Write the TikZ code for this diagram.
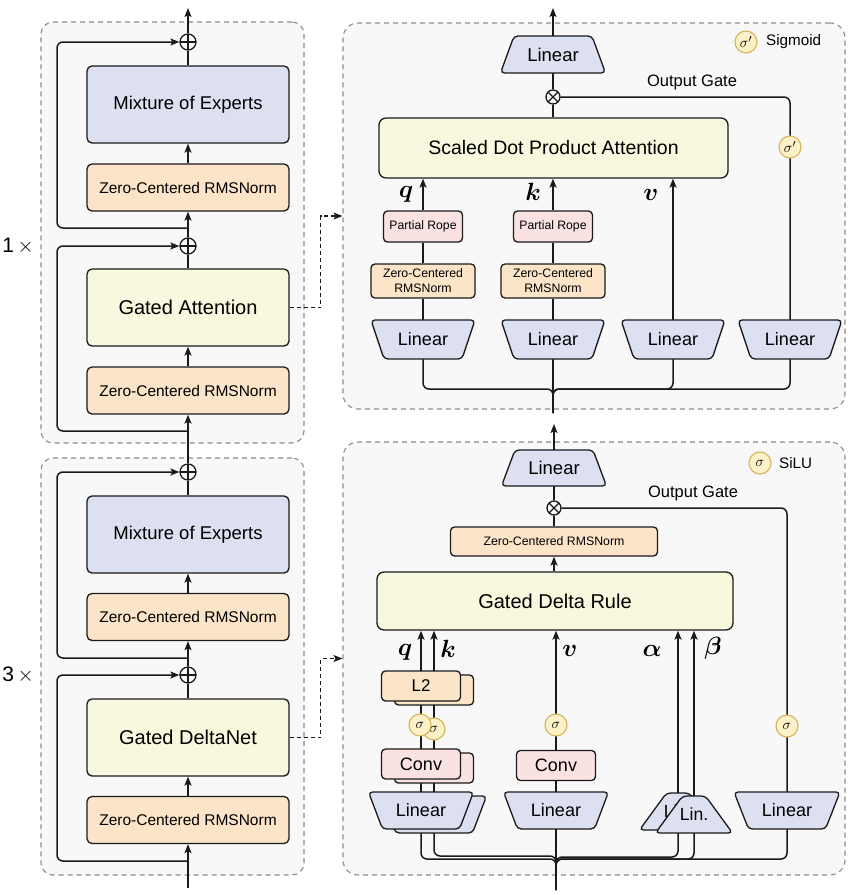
\documentclass[tikz,border=0pt]{standalone}
\usepackage{fontspec}
\setmainfont{Liberation Sans}
\usetikzlibrary{arrows.meta,calc}
\pgfdeclarelayer{panelL}
\pgfdeclarelayer{lineL}
\pgfsetlayers{panelL,lineL,main}
\definecolor{lav}{RGB}{221,224,240}
\definecolor{org}{RGB}{252,228,200}
\definecolor{yel}{RGB}{248,248,222}
\definecolor{pnk}{RGB}{251,226,226}
\definecolor{sigf}{RGB}{252,241,199}
\definecolor{sigd}{RGB}{212,180,90}
\definecolor{pan}{RGB}{248,248,248}
\definecolor{pand}{RGB}{140,140,140}
\definecolor{ink}{RGB}{26,26,26}
\newcommand\fsz[2]{\fontsize{#1}{#2}\selectfont}
% name, x, y, top width, bottom width, height, text, font
\newcommand\mkTrap[8]{%
  \draw[trapline] ({#2-(#4)/2},{#3-(#6)/2}) -- ({#2+(#4)/2},{#3-(#6)/2}) -- ({#2+(#5)/2},{#3+(#6)/2}) -- ({#2-(#5)/2},{#3+(#6)/2}) -- cycle;
  \node[inner sep=0pt, minimum width={max(#4,#5)*1pt}, minimum height={(#6)*1pt}, font=#8] (#1) at (#2,#3) {#7};}
\tikzset{
  bx/.style={draw=ink, line width=1.3pt, rounded corners=5pt, inner sep=0pt, align=center},
  moebox/.style={bx, fill=lav, minimum width=202pt, minimum height=77pt, font=\fsz{18.5}{22}},
  yelbig/.style={bx, fill=yel, minimum width=202pt, minimum height=77pt, font=\fsz{20}{24}},
  normbig/.style={bx, fill=org, minimum width=202pt, minimum height=47pt, font=\fsz{15.5}{18}},
  prbox/.style={bx, fill=pnk, minimum width=79pt, minimum height=31pt, font=\fsz{12.2}{14}, rounded corners=4pt},
  znsmall/.style={bx, fill=org, minimum width=104pt, minimum height=34pt, font=\fsz{12.3}{15}, rounded corners=4pt},
  znwide/.style={bx, fill=org, minimum width=207pt, minimum height=29pt, font=\fsz{12.3}{15}, rounded corners=4pt},
  ltwobox/.style={bx, fill=org, minimum width=79pt, minimum height=30pt, font=\fsz{17}{17}, rounded corners=4pt},
  convbox/.style={bx, fill=pnk, minimum width=79pt, minimum height=30pt, font=\fsz{18}{18}, rounded corners=4pt},
  sdpabox/.style={bx, fill=yel, minimum width=349pt, minimum height=60pt, font=\fsz{19.5}{22}, rounded corners=7pt},
  gdrbox/.style={bx, fill=yel, minimum width=356pt, minimum height=58pt, font=\fsz{20}{22}, rounded corners=7pt},
  trapline/.style={draw=ink, fill=lav, line width=1.3pt, rounded corners=4pt},
  sigc/.style={circle, draw=sigd, fill=sigf, line width=1.1pt, minimum size=22pt, inner sep=0pt, font=\fsz{15}{15}},
  opl/.style={circle, draw=ink, line width=1.3pt, fill=pan, minimum size=16pt, inner sep=0pt,
    path picture={\draw[ink, line width=1.3pt] (path picture bounding box.north) -- (path picture bounding box.south) (path picture bounding box.west) -- (path picture bounding box.east);}},
  otm/.style={circle, draw=ink, line width=1.3pt, fill=pan, minimum size=14pt, inner sep=0pt,
    path picture={\draw[ink, line width=1.3pt] (path picture bounding box.north west) -- (path picture bounding box.south east) (path picture bounding box.north east) -- (path picture bounding box.south west);}},
  panelbox/.style={draw=pand, fill=pan, dash pattern=on 5pt off 4pt, line width=1.1pt, inner sep=0pt},
  ln/.style={draw=ink, line width=1.5pt},
  arr/.style={ln, -{Stealth[length=9pt,width=7pt,inset=2pt]}},
  darr/.style={draw=ink, line width=1.3pt, dash pattern=on 4pt off 3pt, -{Stealth[length=9pt,width=7pt,inset=2pt]}},
  rc/.style={rounded corners=6pt},
  lbl/.style={inner sep=0pt, font=\fsz{23}{23}\boldmath},
  ogt/.style={inner sep=0pt, font=\fsz{16.5}{17}},
}
\begin{document}
\begin{tikzpicture}[x=1pt,y=-1pt]
\useasboundingbox (0,0) rectangle (848,895);
\begin{pgfonlayer}{panelL}
\node[panelbox, rounded corners=12pt, minimum width=263pt, minimum height=421pt] (PA1) at (172.5,232.5) {};
\node[panelbox, rounded corners=12pt, minimum width=263pt, minimum height=417pt] (PB1) at (172.5,666.5) {};
\node[panelbox, rounded corners=15pt, minimum width=502pt, minimum height=386pt] (PT) at (594,216) {};
\node[panelbox, rounded corners=15pt, minimum width=502pt, minimum height=433pt] (PB) at (594,658.5) {};
\end{pgfonlayer}

% ---------- left column ----------
\node[inner sep=0pt, font=\fsz{21}{21}] (n1) at (18,246) {1\,$\times$};
\node[inner sep=0pt, font=\fsz{21}{21}] (n3) at (18,675) {3\,$\times$};
\node[opl] (plusA1) at (188,42) {};
\node[moebox] (MoE1) at (188,104.5) {Mixture of Experts};
\node[normbig] (Norm1a) at (188,187.5) {Zero-Centered RMSNorm};
\node[opl] (plusA2) at (188,246) {};
\node[yelbig] (GA) at (188,307.5) {Gated Attention};
\node[normbig] (Norm1b) at (188,390.5) {Zero-Centered RMSNorm};
\node[opl] (plusB1) at (188,472) {};
\node[moebox] (MoE2) at (188,534.5) {Mixture of Experts};
\node[normbig] (Norm2a) at (188,617) {Zero-Centered RMSNorm};
\node[opl] (plusB2) at (188,675) {};
\node[yelbig] (GDN) at (188,737.5) {Gated DeltaNet};
\node[normbig] (Norm2b) at (188,820) {Zero-Centered RMSNorm};
\coordinate (outL) at (188,8);
\coordinate (inL) at (188,888);
\coordinate (brA1) at (188,228);
\coordinate (rA1) at (57,42);
\coordinate (brA2) at (188,431);
\coordinate (rA2) at (57,246);
\coordinate (brB1) at (188,658);
\coordinate (rB1) at (57,472);
\coordinate (brB2) at (188,861);
\coordinate (rB2) at (57,675);

% ---------- top right: gated attention ----------
\node[sigc] (legT) at (746,42) {$\sigma'$};
\node[anchor=west, inner sep=0pt, font=\fsz{15.2}{16}] (legTt) at (766,42) {Sigmoid};
\mkTrap{LT}{553}{54.5}{78}{105}{37}{Linear}{\fsz{18.5}{18.5}}
\node[otm] (otT) at (553,97) {};
\node[ogt] (ogT) at (692,82) {Output Gate};
\node[sdpabox] (SDPA) at (553.5,148) {Scaled Dot Product Attention};
\node[sigc] (sigT) at (790,147) {$\sigma'$};
\node[lbl] (lqT) at (406,194) {$q$};
\node[lbl] (lkT) at (533,192) {$k$};
\node[lbl] (lvT) at (651,195) {$v$};
\node[prbox] (PR1) at (423,226.5) {Partial Rope};
\node[prbox] (PR2) at (553,226.5) {Partial Rope};
\node[znsmall] (ZN1) at (423,281) {Zero-Centered\\RMSNorm};
\node[znsmall] (ZN2) at (553,281) {Zero-Centered\\RMSNorm};
\mkTrap{TL1}{423}{339.5}{104}{78}{39}{Linear}{\fsz{18}{18}}
\mkTrap{TL2}{553}{339.5}{104}{78}{39}{Linear}{\fsz{18}{18}}
\mkTrap{TL3}{673}{339.5}{104}{78}{39}{Linear}{\fsz{18}{18}}
\mkTrap{TL4}{790}{339.5}{104}{78}{39}{Linear}{\fsz{18}{18}}
\coordinate (outT) at (553,8);
\coordinate (busT) at (553,389);
\coordinate (jT) at (553,413);

% ---------- bottom right: gated deltanet ----------
\node[sigc] (legB) at (760,463) {$\sigma$};
\node[anchor=west, inner sep=0pt, font=\fsz{15.2}{16}] (legBt) at (779,463) {SiLU};
\mkTrap{LB}{554}{468}{78}{105}{36}{Linear}{\fsz{18.5}{18.5}}
\node[otm] (otB) at (554,508) {};
\node[ogt] (ogB) at (693,493) {Output Gate};
\node[znwide] (ZNw) at (554,541.5) {Zero-Centered RMSNorm};
\node[gdrbox] (GDR) at (555,601) {Gated Delta Rule};
\node[lbl] (lqB) at (405,652) {$q$};
\node[lbl] (lkB) at (448,649) {$k$};
\node[lbl] (lvB) at (570,651) {$v$};
\node[lbl] (laB) at (652,651) {$\alpha$};
\node[lbl] (lbB) at (713,648) {$\beta$};
% back stack (k)
\node[ltwobox] (BL2k) at (434,690) {};
\node[convbox] (BCk) at (434,768) {};
\mkTrap{BLk}{434}{814.5}{105}{77}{37}{}{\fsz{18}{18}}
\node[sigc] (BSk) at (434,729) {$\sigma$};
% front stack (q)
\node[ltwobox] (BL2q) at (421,686) {L2};
\node[convbox] (BCq) at (421,764) {Conv};
\mkTrap{BLq}{421}{810.5}{105}{77}{37}{Linear}{\fsz{18}{18}}
\node[sigc] (BSq) at (420,725) {$\sigma$};
% v stack
\node[sigc] (BSv) at (556,725) {$\sigma$};
\node[convbox] (BCv) at (556,765.5) {Conv};
\mkTrap{BLv}{556}{810.5}{105}{77}{37}{Linear}{\fsz{18}{18}}
% alpha / beta
\mkTrap{BLa}{678}{811.5}{23}{77}{37}{Lin.}{\fsz{17.6}{18}}
\mkTrap{BLb}{694}{814.5}{23}{77}{37}{Lin.}{\fsz{17.6}{18}}
% output gate
\node[sigc] (BSo) at (787,726) {$\sigma$};
\mkTrap{BLo}{787}{810.5}{106}{77}{37}{Linear}{\fsz{18}{18}}
\coordinate (outB) at (554,424);
\coordinate (busB) at (556,859);
\coordinate (inR) at (556,890);

\begin{pgfonlayer}{lineL}
% left top
\draw[arr] (plusA1) -- (outL);
\draw[ln] (MoE1) -- (plusA1);
\draw[arr] (Norm1a) -- (MoE1);
\draw[arr] (plusA2) -- (Norm1a);
\draw[arr,rc] (brA1) -| (rA1) -- (plusA1);
\draw[ln] (GA) -- (plusA2);
\draw[arr] (Norm1b) -- (GA);
\draw[arr] (plusB1) -- (Norm1b);
\draw[arr,rc] (brA2) -| (rA2) -- (plusA2);
% left bottom
\draw[ln] (MoE2) -- (plusB1);
\draw[arr] (Norm2a) -- (MoE2);
\draw[arr] (plusB2) -- (Norm2a);
\draw[arr,rc] (brB1) -| (rB1) -- (plusB1);
\draw[ln] (GDN) -- (plusB2);
\draw[arr] (Norm2b) -- (GDN);
\draw[arr] (inL) -- (Norm2b);
\draw[arr,rc] (brB2) -| (rB2) -- (plusB2);
% dashed links
\draw[darr] (GA.east) -- ++(31,0) |- (PT.west);
\draw[darr] (GDN.east) -- ++(31,0) |- (PB.west);
% top right
\draw[arr] (LT) -- (outT);
\draw[ln] (otT) -- (LT);
\draw[ln] (otT |- SDPA.north) -- (otT);
\draw[arr] (PR1) -- (PR1 |- SDPA.south);
\draw[ln] (ZN1) -- (PR1);
\draw[ln] (TL1) -- (ZN1);
\draw[arr] (PR2) -- (PR2 |- SDPA.south);
\draw[ln] (ZN2) -- (PR2);
\draw[ln] (TL2) -- (ZN2);
\draw[arr] (TL3.north) -- (TL3.north |- SDPA.south);
\draw[ln,rc] (TL4.north) |- (otT.east);
\draw[ln,rc] (TL1.south) |- (busT) -- (jT);
\draw[ln,rc] (TL4.south) |- (busT) -- (jT);
\draw[ln,rc] (TL3.south) |- (busT) -- (jT);
\draw[ln] (TL2.south) -- (jT);
% bottom right
\draw[arr] (LB) -- (outB);
\draw[ln] (otB) -- (LB);
\draw[ln] (ZNw) -- (otB);
\draw[arr] (ZNw |- GDR.north) -- (ZNw.south);
\draw[ln,rc] (BLo.north) |- (otB.east);
\draw[arr] (BLk.north) -- (BLk.north |- GDR.south);
\draw[arr] (BLq.north) -- (BLq.north |- GDR.south);
\draw[arr] (BLv.north) -- (BLv.north |- GDR.south);
\draw[arr] (BLa.north) -- (BLa.north |- GDR.south);
\draw[arr] (BLb.north) -- (BLb.north |- GDR.south);
\draw[ln,rc] (BLq.south) |- (busB) -- (inR);
\draw[ln,rc] (BLk.south) |- ($(busB)+(0,-3)$) -- (inR);
\draw[ln,rc] (BLa.south) |- ($(busB)+(0,-2)$) -- (inR);
\draw[ln,rc] (BLb.south) |- (busB) -- (inR);
\draw[ln,rc] (BLo.south) |- (busB) -- (inR);
\draw[ln] (BLv.south) -- (inR);
\end{pgfonlayer}
\end{tikzpicture}
\end{document}
